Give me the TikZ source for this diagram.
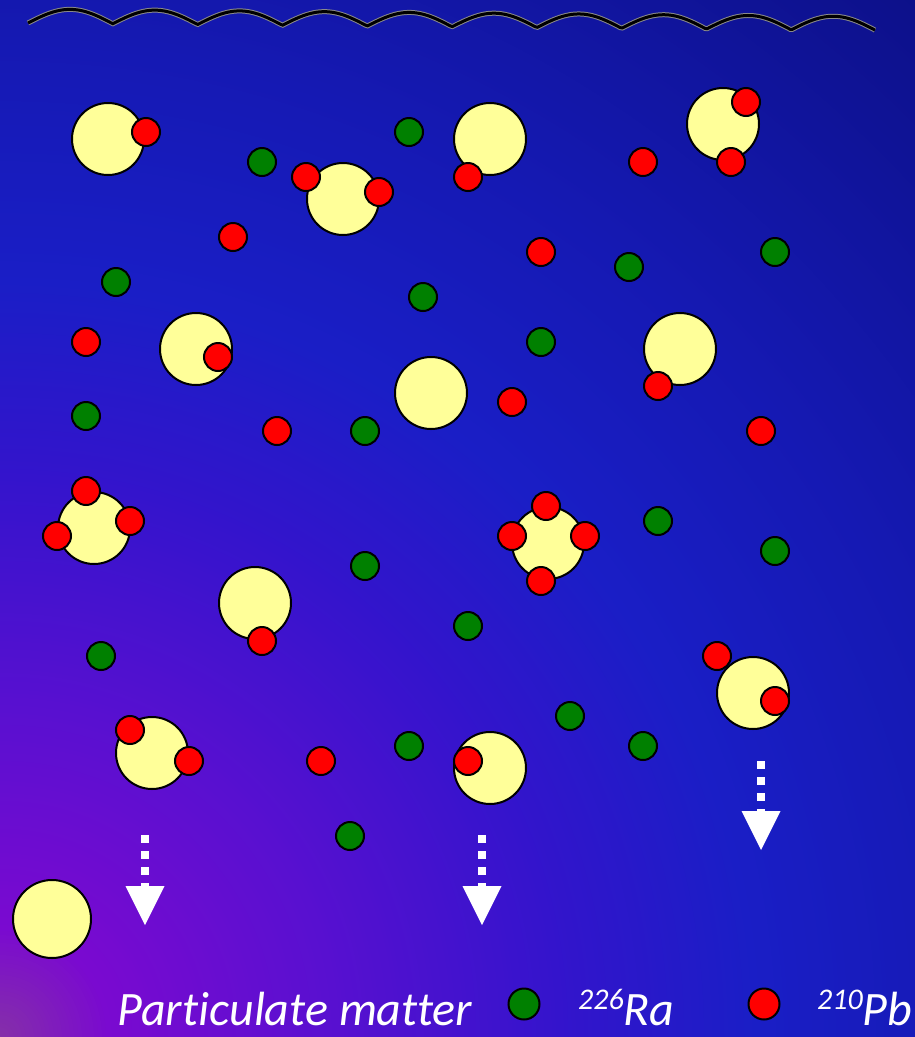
\documentclass[tikz,border=0pt]{standalone}
\usepackage{fontspec}
\setmainfont{Carlito}[Ligatures=NoCommon]
\definecolor{bgc0}{HTML}{8530A8}
\definecolor{bgc1}{HTML}{7A0AD0}
\definecolor{bgc2}{HTML}{5810D0}
\definecolor{bgc3}{HTML}{3414CC}
\definecolor{bgc4}{HTML}{1A1EC6}
\definecolor{bgc5}{HTML}{1519B2}
\definecolor{bgc6}{HTML}{0C1088}
\definecolor{pmyellow}{HTML}{FFFF99}
\definecolor{ragreen}{HTML}{008000}
\definecolor{pbred}{HTML}{FF0000}
\definecolor{wavegray}{HTML}{8A8A8A}
\begin{document}
\begin{tikzpicture}[x=1pt,y=-1pt,
  partbox/.style={circle, draw=black, line width=2pt, fill=pmyellow, minimum size=72pt, inner sep=0pt},
  rabox/.style={circle, draw=black, line width=2pt, fill=ragreen, minimum size=28pt, inner sep=0pt},
  pbbox/.style={circle, draw=black, line width=2pt, fill=pbred, minimum size=28pt, inner sep=0pt},
  sinkline/.style={draw=white, line width=8pt, dash pattern=on 8pt off 8pt},
  sinkhead/.style={fill=white},
  legtext/.style={text=white, font=\fontsize{48}{48}\selectfont\itshape, inner sep=0pt, anchor=base west}]
\useasboundingbox (0,0) rectangle (915,1037);
\begin{scope}
  \clip (0,0) rectangle (915,1037);
  \foreach \ra/\rb/\ca/\cb in {1008/1400/bgc5/bgc6, 756/1008/bgc4/bgc5, 560/756/bgc3/bgc4, 336/560/bgc2/bgc3, 110/336/bgc1/bgc2, 0/110/bgc0/bgc1} {
    \pgfmathtruncatemacro\rs{\rb-4}
    \foreach \r in {\rb,\rs,...,\ra} {
      \pgfmathtruncatemacro\p{(\r-\ra)/(\rb-\ra)*100}
      \fill[\cb!\p!\ca] (0,1037) circle (\r);
    }
  }
\end{scope}
% water surface
\draw[wavegray, line width=5pt] plot[domain=28:875, samples=400] (\x, {23+0.009*(\x-28)-14*abs(sin(2.1226*(\x-28)))});
\draw[black, line width=3pt] plot[domain=28:875, samples=400] (\x, {23+0.009*(\x-28)-14*abs(sin(2.1226*(\x-28)))});
% particles
\foreach \px/\py [count=\i] in {108/139, 490/139, 723/124, 343/199, 196/349, 680/349, 431/393, 94/528, 548/543, 255/603, 753/693, 152/753, 490/768}
  \node[partbox] (p\i) at (\px,\py) {};
% radium
\foreach \px/\py [count=\i] in {262/162, 409/132, 116/282, 423/297, 629/267, 775/252, 541/342, 86/416, 365/431, 365/566, 658/521, 775/551, 468/626, 101/656, 570/716, 409/746, 643/746, 350/836}
  \node[rabox] (g\i) at (\px,\py) {};
% lead
\foreach \px/\py [count=\i] in {146/132, 468/177, 746/102, 731/162, 306/177, 379/192, 218/357, 658/386, 86/491, 57/536, 130/521, 546/506, 512/536, 585/536, 541/581, 262/641, 775/701, 717/656, 130/730, 189/761, 468/761, 643/162, 233/237, 541/252, 86/342, 277/431, 512/402, 761/431, 321/761}
  \node[pbbox] (r\i) at (\px,\py) {};
% sinking arrows
\coordinate (s1a) at (145,835); \coordinate (s1b) at (145,886);
\coordinate (s2a) at (482,835); \coordinate (s2b) at (482,886);
\coordinate (s3a) at (761,761); \coordinate (s3b) at (761,811);
\foreach \k in {1,2,3} {
  \draw[sinkline] (s\k a) -- (s\k b);
  \fill[sinkhead] ([xshift=-19.5pt]s\k b) -- ([xshift=19.5pt]s\k b) -- ([yshift=-39pt]s\k b) -- cycle;
}
% legend
\node[partbox, minimum size=78pt] (pL) at (52,919) {};
\node[rabox, minimum size=31pt] (gL) at (524,1004) {};
\node[pbbox, minimum size=31pt] (rL) at (764,1004) {};
\node[legtext] (tpm) at (117,1025) {Particulate matter};
\node[legtext] (tra) at (578,1025) {\raisebox{16pt}{\fontsize{30}{30}\selectfont 226}Ra};
\node[legtext] (tpb) at (817,1025) {\raisebox{16pt}{\fontsize{30}{30}\selectfont 210}Pb};
\end{tikzpicture}
\end{document}
